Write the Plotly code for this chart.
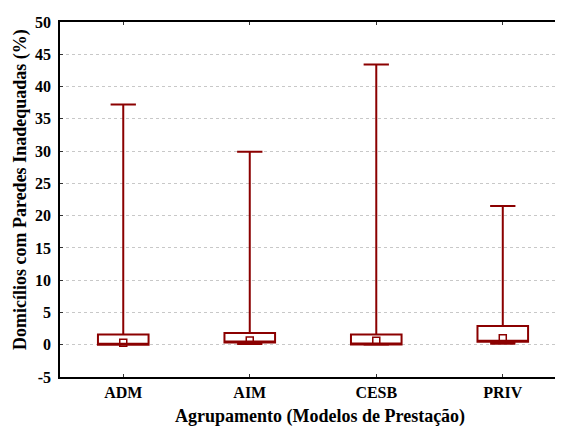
import plotly.graph_objects as go

categories = ["ADM", "AIM", "CESB", "PRIV"]
minimum = [0.0, 0.1, 0.0, 0.15]
q1 = [0.0, 0.35, 0.05, 0.45]
median = [0.3, 0.65, 0.6, 1.0]
q3 = [1.6, 1.8, 1.6, 2.9]
maximum = [37.2, 29.9, 43.4, 21.5]

y_ticks = list(range(-5, 55, 5))
positions = list(range(len(categories)))

RED = "#8B0000"
FONT = "Liberation Serif"

fig = go.Figure()
fig.add_trace(go.Box(
    x=positions,
    q1=q1, median=q1, q3=q3,
    lowerfence=minimum, upperfence=maximum,
    width=0.4, whiskerwidth=0.5,
    line=dict(color=RED, width=2),
    fillcolor="rgba(255,255,255,0)",
    boxpoints=False,
    showlegend=False,
    hoverinfo="skip",
))
fig.add_trace(go.Scatter(
    x=positions, y=median, mode="markers",
    marker=dict(symbol="square-open", size=7, color=RED, line=dict(width=1.5, color=RED)),
    showlegend=False,
))

# page has an 8px body margin, so the figure is sized/offset to compensate
fig.update_layout(
    width=555, height=422,
    margin=dict(l=52, r=0, t=14, b=53),
    plot_bgcolor="white", paper_bgcolor="white",
    font=dict(family=FONT, color="black"),
    xaxis=dict(
        range=[-0.5, 3.476], automargin=False,
        tickmode="array", tickvals=positions, ticktext=categories,
        tickfont=dict(family=FONT, size=16, color="black", weight="bold"),
        ticks="inside", ticklen=3, tickcolor="#333",
        showline=True, linecolor="black", linewidth=1.5, mirror="ticks",
        showgrid=False, zeroline=False,
    ),
    yaxis=dict(
        range=[-5, 50], automargin=False,
        tickmode="array", tickvals=y_ticks, ticktext=[str(v) for v in y_ticks],
        tickfont=dict(family=FONT, size=16, color="black", weight="bold"),
        ticks="inside", ticklen=3, tickcolor="#333", ticklabelstandoff=4,
        showline=True, linecolor="black", linewidth=1.5,
        showgrid=True, gridcolor="#c8c8c8", griddash="dot", gridwidth=1,
        zeroline=False,
    ),
    annotations=[
        dict(text="<b>Agrupamento (Modelos de Prestação)</b>", xref="paper", yref="paper",
             x=(320 - 60) / 503, y=-(416 - 377) / 355, xanchor="center", yanchor="middle",
             showarrow=False, font=dict(family=FONT, size=18, color="black")),
        dict(text="<b>Domicílios com Paredes Inadequadas (%)</b>", xref="paper", yref="paper",
             x=-(60 - 20) / 503, y=(377 - 190) / 355, xanchor="center", yanchor="middle",
             textangle=-90, showarrow=False, font=dict(family=FONT, size=18, color="black")),
    ],
)

fig.write_html("out.html")
